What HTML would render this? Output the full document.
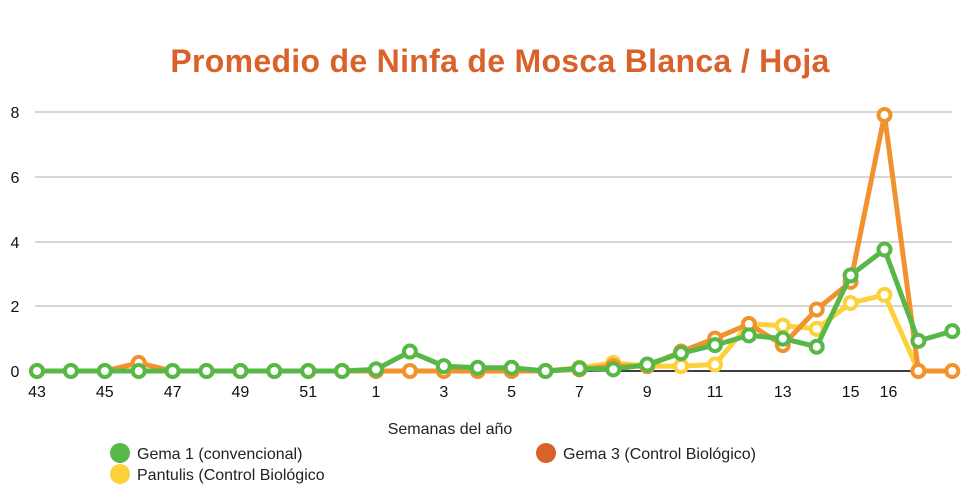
<!DOCTYPE html>
<html><head><meta charset="utf-8"><style>body{margin:0;background:#fff}svg{display:block}text{font-family:"Liberation Sans",sans-serif}</style></head><body>
<svg width="967" height="498" viewBox="0 0 967 498" xmlns="http://www.w3.org/2000/svg">
<text x="500" y="72" text-anchor="middle" font-size="32" letter-spacing="0.3" font-weight="bold" fill="#d9622b">Promedio de Ninfa de Mosca Blanca / Hoja</text>
<g stroke="#c8c8c8" stroke-width="1.5">
<line x1="35" y1="112" x2="952" y2="112"/><line x1="35" y1="177" x2="952" y2="177"/><line x1="35" y1="242" x2="952" y2="242"/><line x1="35" y1="306" x2="952" y2="306"/>
</g>
<line x1="35" y1="371" x2="952" y2="371" stroke="#000" stroke-width="1.5"/>
<g font-size="16" fill="#111" text-anchor="middle">
<text x="15" y="118">8</text><text x="15" y="183">6</text><text x="15" y="248">4</text><text x="15" y="312">2</text><text x="15" y="377">0</text>
</g>
<g id="xl" font-size="16" fill="#111" text-anchor="middle"></g>
<text x="450" y="434" text-anchor="middle" font-size="16" fill="#222">Semanas del año</text>
<circle cx="120" cy="453" r="10" fill="#57b848"/><text x="137" y="459" font-size="16" fill="#222">Gema 1 (convencional)</text>
<circle cx="546" cy="453" r="10" fill="#d9622b"/><text x="563" y="459" font-size="16" fill="#222">Gema 3 (Control Biológico)</text>
<circle cx="120" cy="474" r="10" fill="#fcd13a"/><text x="137" y="480" font-size="16" fill="#222">Pantulis (Control Biológico</text>
<g id="series"></g>
</svg>
<script>
var X=i=>37+33.9*i,Y=v=>371-v*32.4;
var labs={0:"43",2:"45",4:"47",6:"49",8:"51",10:"1",12:"3",14:"5",16:"7",18:"9",20:"11",22:"13",24:"15",25:"16"};
var xl=document.getElementById('xl'),s='';
for(var k in labs)s+='<text x="'+(X(+k)+(k==25?4:0))+'" y="397">'+labs[k]+'</text>';
xl.innerHTML=s;
var yel=[0,0,0,0,0,0,0,0,0,0,0,0,0,0,0,0,0.1,0.25,0.15,0.15,0.2,1.45,1.4,1.3,2.1,2.35,0];
var ora=[0,0,0,0.25,0,0,0,0,0,0,0,0,0,0,0,0,0.05,0.15,0.15,0.6,1.0,1.45,0.8,1.9,2.75,7.9,0,0];
var gre=[0,0,0,0,0,0,0,0,0,0,0.05,0.6,0.15,0.1,0.1,0,0.08,0.05,0.2,0.55,0.8,1.1,1.0,0.75,2.95,3.75,0.93,1.23];
var out='';
[[yel,'#fcd13a'],[ora,'#f0922e'],[gre,'#57b848']].forEach(function(a){
var d=a[0],c=a[1],p=d.map((v,i)=>X(i).toFixed(1)+','+Y(v).toFixed(1)).join(' ');
out+='<polyline points="'+p+'" fill="none" stroke="'+c+'" stroke-width="5" stroke-linejoin="round"/>';
d.forEach((v,i)=>{out+='<circle cx="'+X(i)+'" cy="'+Y(v)+'" r="6" fill="#fff" stroke="'+c+'" stroke-width="4"/>';});
});
document.getElementById('series').innerHTML=out;
</script>
</body></html>
